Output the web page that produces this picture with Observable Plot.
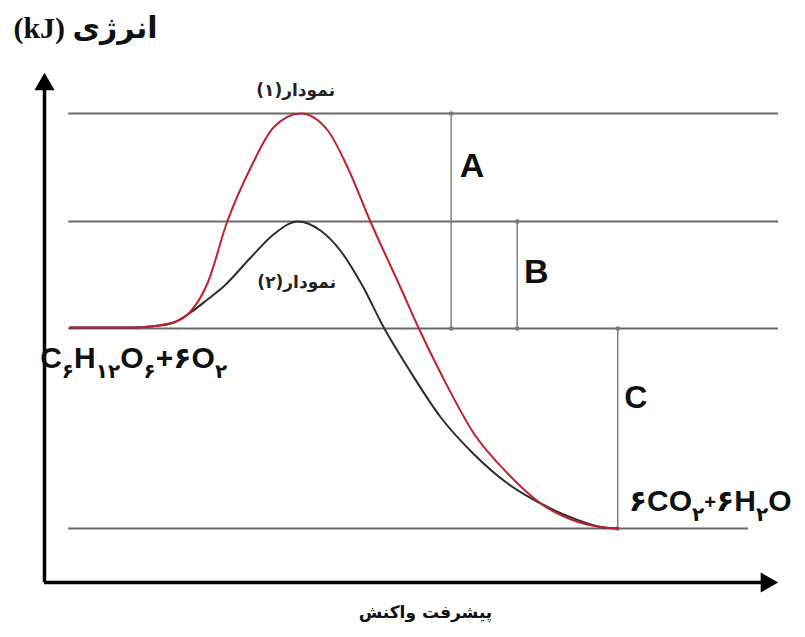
<!DOCTYPE html>
<html>
<head>
<meta charset="utf-8">
<script src="https://cdn.jsdelivr.net/npm/d3@7"></script>
<script src="https://cdn.jsdelivr.net/npm/@observablehq/plot@0.6"></script>
<style>
  html, body { margin: 0; padding: 0; background: #fff; }
  #chart svg { display: block; }
</style>
</head>
<body>
<div id="chart"></div>
<script>
// ---- data (reaction progress 0..100, energy in arbitrary kJ-like units) ----
const xDomain = [0, 100];
const yDomain = [-54, 456];

const levelNames  = ["peak1", "peak2", "reactants", "products"];
const levelEnergy = [415, 307, 200, 0];
const levelStart  = [3.3, 3.3, 3.3, 3.3];
const levelEnd    = [100, 100, 100, 95.9];

// curve (1): uncatalysed (red)
const progress1 = [3.5, 7.6, 11.7, 14.4, 17.6, 19.9, 22.2, 24.9, 28.1, 31.2, 34.9, 38.6, 41.3, 44.4, 48.5, 51.0, 54.0, 58.5, 63.1, 67.6, 72.1, 76.2, 78.1];
const energy1   = [201, 201, 201, 202, 206, 217, 245, 307, 361, 401, 415, 398, 361, 307, 241, 200, 155, 95, 55, 25, 8, 1, 0];

// curve (2): catalysed (black)
const progress2 = [3.5, 7.6, 11.7, 14.4, 17.6, 19.9, 22.2, 24.4, 28.1, 31.2, 34.5, 37.6, 40.3, 43.3, 46.3, 49.5, 54.0, 58.4, 63.1, 67.6, 72.1, 76.2, 78.1];
const energy2   = [201, 201, 201, 202, 206, 216, 229, 242, 271, 294, 307, 298, 278, 243, 200, 161, 111, 75, 45, 25, 10, 1, 0];

// dimension markers
const dimLabels = ["A", "B", "C"];
const dimX      = [55.4, 64.4, 78.1];
const dimFrom   = [200, 200, 0];
const dimTo     = [415, 307, 200];

// texts
const yTitle  = "\u202Bانرژی (kJ)\u202C";
const xTitle  = "\u202Bپیشرفت واکنش\u202C";
const curveLabels = ["\u202Bنمودار(۱)\u202C", "\u202Bنمودار(۲)\u202C"];
// formula segments: [text, kind] kind 0 = normal, 1 = subscript, 2 = small sign
const reactantFormula = [["C", 0], ["۶", 1], ["H", 0], ["۱۲", 1], ["O", 0], ["۶", 1], ["+۶O", 0], ["۲", 1]];
const productFormula  = [["۶CO", 0], ["۲", 1], ["+", 2], ["۶H", 0], ["۲", 1], ["O", 0]];

// ---- derived tables ----
const levels = levelNames.map((n, i) => ({name: n, E: levelEnergy[i], x1: levelStart[i], x2: levelEnd[i]}));
const curve1 = progress1.map((x, i) => ({x, E: energy1[i]}));
const curve2 = progress2.map((x, i) => ({x, E: energy2[i]}));
const dims = dimLabels.map((l, i) => ({label: l, x: dimX[i], from: dimFrom[i], to: dimTo[i]}));
const joined = f => f.map(s => s[0]).join("");

const fa = "DejaVu Sans, sans-serif";
const fl = "Liberation Sans, Arial, DejaVu Sans, sans-serif";

const chart = Plot.plot({
  width: 805,
  height: 637,
  marginLeft: 44,
  marginRight: 27,
  marginTop: 72,
  marginBottom: 55,
  x: {domain: xDomain, axis: null},
  y: {domain: yDomain, axis: null},
  style: {background: "#fff", overflow: "visible"},
  marks: [
    // energy levels
    Plot.ruleY(levels, {y: "E", x1: "x1", x2: "x2", stroke: "#6a6a6a", strokeWidth: 1.8}),
    // dimension lines
    Plot.link(dims, {x1: "x", x2: "x", y1: "from", y2: "to", stroke: "#7a7a7a", strokeWidth: 1.4, markerStart: "dot", markerEnd: "dot"}),
    // curves
    Plot.line(curve2, {x: "x", y: "E", curve: "monotone-x", stroke: "#2e2e2e", strokeWidth: 2}),
    Plot.line(curve1, {x: "x", y: "E", curve: "monotone-x", stroke: "#bb2330", strokeWidth: 2}),
    // axes
    Plot.ruleX([xDomain[0]], {y1: yDomain[0], y2: yDomain[1] - 12, stroke: "#000", strokeWidth: 3.5}),
    Plot.ruleY([yDomain[0]], {x1: xDomain[0], x2: xDomain[1] - 1.6, stroke: "#000", strokeWidth: 3.5}),
    Plot.dot([[xDomain[0], yDomain[1]]], {x: d => d[0], y: d => d[1], symbol: "triangle", r: 7.5, fill: "#000", dy: 12}),
    Plot.dot([[xDomain[1], yDomain[0]]], {x: d => d[0], y: d => d[1], symbol: "triangle", rotate: 90, r: 7.5, fill: "#000", dx: -12}),
    // dimension labels
    Plot.text([dims[0]], {x: "x", y: "to", text: "label", dx: 21, dy: 53, fontSize: 34, fontWeight: "bold", fontFamily: fl, fill: "#111"}),
    Plot.text([dims[1]], {x: "x", y: "to", text: "label", dx: 19, dy: 51, fontSize: 34, fontWeight: "bold", fontFamily: fl, fill: "#111"}),
    Plot.text([dims[2]], {x: "x", y: "to", text: "label", dx: 18, dy: 69, fontSize: 32, fontWeight: "bold", fontFamily: fl, fill: "#111"}),
    // curve labels
    Plot.text([curveLabels[0]], {x: progress1[energy1.indexOf(d3.max(energy1))], y: d3.max(energy1), text: d => d, dx: -5, dy: -23, fontSize: 17, fontWeight: "bold", fontFamily: fa, fill: "#222"}),
    Plot.text([curveLabels[1]], {x: progress2[energy2.indexOf(d3.max(energy2))], y: d3.max(energy2), text: d => d, dx: -1, dy: 61, fontSize: 17, fontWeight: "bold", fontFamily: fa, fill: "#222"}),
    // formulas
    Plot.text([joined(reactantFormula)], {x: progress1[0], y: levelEnergy[2], text: d => d, dx: -30, dy: 39, textAnchor: "start", lineAnchor: "bottom", fontSize: 30, fontWeight: "bold", fontFamily: fl, fill: "#111"}),
    Plot.text([joined(productFormula)], {x: dimX[2], y: levelEnergy[3], text: d => d, dx: 11, dy: -18, textAnchor: "start", lineAnchor: "bottom", fontSize: 30, fontWeight: "bold", fontFamily: fl, fill: "#111"}),
    // axis titles
    Plot.text([yTitle], {frameAnchor: "top-left", text: d => d, dx: 41, dy: -44, textAnchor: "middle", lineAnchor: "middle", fontSize: 30, fontWeight: "bold", fontFamily: "Liberation Serif, DejaVu Sans, serif", fill: "#111"}),
    Plot.text([xTitle], {frameAnchor: "bottom", text: d => d, dx: 14, dy: 30, textAnchor: "middle", lineAnchor: "middle", fontSize: 17, fontWeight: "bold", fontFamily: fa, fill: "#111"})
  ]
});

// subscripts for the formulas
function applySubscripts(svg, segs) {
  const full = joined(segs);
  const t = Array.from(svg.querySelectorAll("text")).find(el => el.textContent === full);
  if (!t) return;
  t.textContent = "";
  const shifts = {0: 0, 1: 10, 2: -2};
  let shift = 0;
  segs.forEach(([s, kind]) => {
    const ts = document.createElementNS("http://www.w3.org/2000/svg", "tspan");
    ts.textContent = s;
    const want = shifts[kind];
    if (want !== shift) { ts.setAttribute("dy", want - shift); shift = want; }
    if (kind === 1) { ts.setAttribute("font-size", 20); ts.setAttribute("font-family", fa); }
    if (kind === 2) { ts.setAttribute("font-size", 20); }
    t.appendChild(ts);
  });
}
applySubscripts(chart, reactantFormula);
applySubscripts(chart, productFormula);

document.getElementById("chart").appendChild(chart);
</script>
</body>
</html>
